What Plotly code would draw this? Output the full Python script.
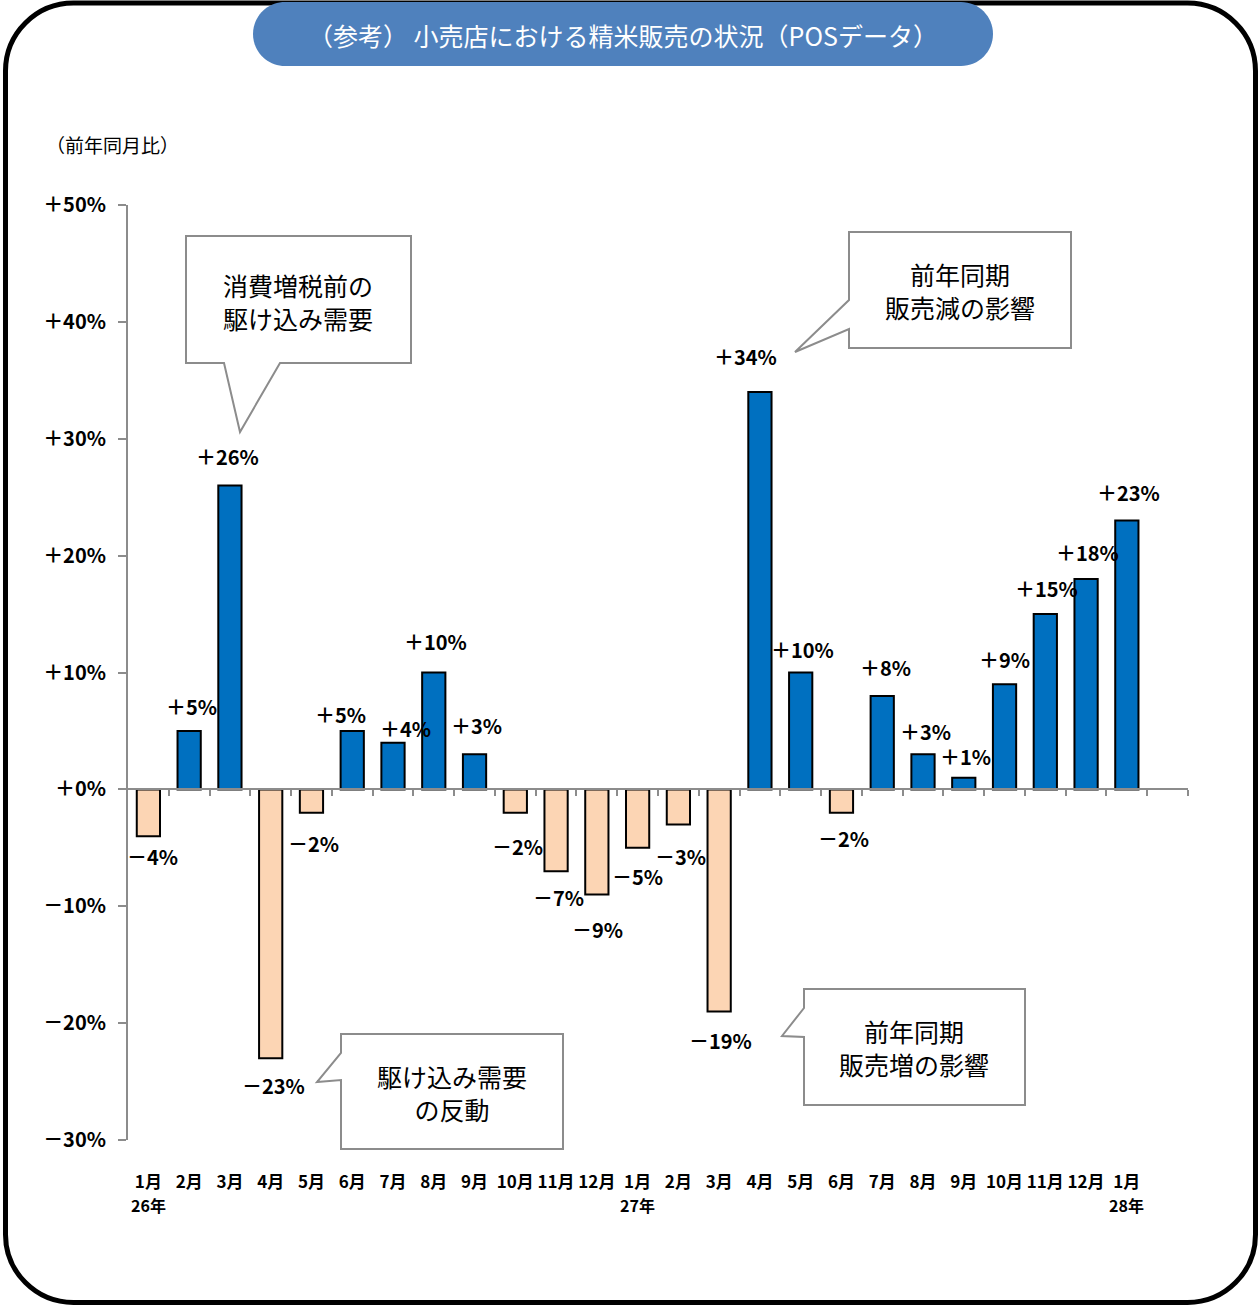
import plotly.graph_objects as go

# ---- data -------------------------------------------------------------
months = ["1月", "2月", "3月", "4月", "5月", "6月", "7月", "8月", "9月", "10月", "11月", "12月",
          "1月", "2月", "3月", "4月", "5月", "6月", "7月", "8月", "9月", "10月", "11月", "12月",
          "1月"]
years = {0: "26年", 12: "27年", 24: "28年"}
yoy_change = [-4, 5, 26, -23, -2, 5, 4, 10, 3, -2, -7, -9,
              -5, -3, -19, 34, 10, -2, 8, 3, 1, 9, 15, 18, 23]
y_ticks = [-30, -20, -10, 0, 10, 20, 30, 40, 50]

# label nudges (px) relative to bar ends
label_dx = [4, 2, -2, 3, 2, -12, 12, 2, 2, 2, 2, 1, 0, 2, 1, -14, 2, 2, 3, 2, 2, 0, 1, 1, 2]
label_dy = [-20, 24, 29, -27, -31, 16, 14, 31, 29, -34, -26, -35, -29, -32, -29, 36, 23, -26, 28, 23, 21, 25, 26, 27, 28]

W, H = 1259, 1308
L, R, T, B = 128, 71, 205, 168
PW, PH = W - L - R, H - T - B
JP = "Noto Sans CJK JP"
BLUE = "#0070C0"
PEACH = "#FCD5B4"
GRAY = "#8C8C8C"


def fmt_pct(v):
    return ("＋" if v >= 0 else "－") + f"{abs(v)}%"


def px(x, y):
    return f"{(x - L) / PW:.5f},{(H - B - y) / PH:.5f}"


def poly(pts):
    return "M " + " L ".join(px(x, y) for x, y in pts) + " Z"


def rounded(x0, y0, x1, y1, r):
    k = 0.5523 * r
    return (
        f"M {px(x0 + r, y0)} L {px(x1 - r, y0)} "
        f"C {px(x1 - r + k, y0)} {px(x1, y0 + r - k)} {px(x1, y0 + r)} "
        f"L {px(x1, y1 - r)} "
        f"C {px(x1, y1 - r + k)} {px(x1 - r + k, y1)} {px(x1 - r, y1)} "
        f"L {px(x0 + r, y1)} "
        f"C {px(x0 + r - k, y1)} {px(x0, y1 - r + k)} {px(x0, y1 - r)} "
        f"L {px(x0, y0 + r)} "
        f"C {px(x0, y0 + r - k)} {px(x0 + r - k, y0)} {px(x0 + r, y0)} Z"
    )


xs = list(range(len(yoy_change)))
colors = [BLUE if v >= 0 else PEACH for v in yoy_change]

fig = go.Figure()
fig.add_trace(go.Bar(
    x=xs, y=yoy_change, width=0.57,
    marker=dict(color=colors, line=dict(color="#000000", width=2)),
    hoverinfo="skip", showlegend=False,
))

# value labels
for i, v in enumerate(yoy_change):
    fig.add_annotation(
        x=i, y=v, xref="x", yref="y", text=fmt_pct(v), showarrow=False,
        xshift=label_dx[i], yshift=label_dy[i],
        font=dict(family=JP, size=20, color="#000000", weight="bold"),
    )

# year markers under the January ticks
for i, yr in years.items():
    fig.add_annotation(
        x=i, y=0, xref="x", yref="paper", text=yr, showarrow=False,
        yanchor="middle", yshift=-65,
        font=dict(family=JP, size=16, color="#000000", weight="bold"),
    )

fig.update_layout(
    width=W, height=H,
    margin=dict(l=L, r=R, t=T, b=B),
    paper_bgcolor="white", plot_bgcolor="white",
    xaxis=dict(
        range=[-0.5, 25.5], tickvals=xs, ticktext=months,
        showgrid=False, zeroline=False, showline=False, ticks="",
        ticklabelstandoff=30,
        tickfont=dict(family=JP, size=17, color="#000000", weight="bold"),
    ),
    xaxis2=dict(
        range=[-0.5, 25.5], overlaying="x", anchor="free", position=30 / 80,
        showline=True, linecolor=GRAY, linewidth=2,
        tickvals=[i + 0.5 for i in range(26)], ticks="outside", ticklen=6,
        tickcolor=GRAY, tickwidth=2, showticklabels=False, showgrid=False,
        zeroline=False,
    ),
    yaxis=dict(
        range=[-30, 50], tickvals=y_ticks, ticktext=[fmt_pct(v) for v in y_ticks],
        showgrid=False, zeroline=False, showline=True, linecolor=GRAY, linewidth=2,
        ticks="outside", ticklen=8, tickcolor=GRAY, tickwidth=2,
        ticklabelstandoff=8,
        tickfont=dict(family=JP, size=20, color="#000000", weight="bold"),
    ),
)
# placeholder trace so the zero-line axis is drawn
fig.add_trace(go.Scatter(x=[None], y=[None], xaxis="x2", showlegend=False, hoverinfo="skip"))

shapes = []
# outer frame
shapes.append(dict(type="path", xref="paper", yref="paper", path=rounded(5.5, 3, 1255.5, 1302.5, 68),
                   line=dict(color="#000000", width=5), fillcolor="rgba(0,0,0,0)", layer="above"))
# title pill
shapes.append(dict(type="path", xref="paper", yref="paper", path=rounded(253, 2, 993, 66, 32),
                   line=dict(width=0), fillcolor="#4F81BD", layer="above"))
# callouts
callouts = [
    [(186, 236), (411, 236), (411, 363), (280, 363), (240, 432), (224, 363), (186, 363)],
    [(849, 232), (1071, 232), (1071, 348), (849, 348), (849, 329), (795, 352), (849, 300)],
    [(341, 1034), (563, 1034), (563, 1149), (341, 1149), (341, 1080), (317, 1082), (341, 1053)],
    [(804, 989), (1025, 989), (1025, 1105), (804, 1105), (804, 1037), (782, 1036), (804, 1008)],
]
for pts in callouts:
    shapes.append(dict(type="path", xref="paper", yref="paper", path=poly(pts),
                       line=dict(color=GRAY, width=2), fillcolor="white", layer="above"))
fig.update_layout(shapes=shapes)


def text_at(x, y, txt, size, color="#000000", weight="normal"):
    fig.add_annotation(
        x=(x - L) / PW, y=(H - B - y) / PH, xref="paper", yref="paper",
        text=txt, showarrow=False, xanchor="center", yanchor="middle",
        font=dict(family=JP, size=size, color=color, weight=weight),
    )


text_at(623, 35, "（参考） 小売店における精米販売の状況（POSデータ）", 25, color="white")
fig.add_annotation(
    x=(44 - L) / PW, y=(H - B - 145) / PH, xref="paper", yref="paper",
    text="（前年同月比）", showarrow=False, xanchor="left", yanchor="middle",
    font=dict(family=JP, size=19, color="#000000"),
)
text_at(298, 301, "消費増税前の<br>駆け込み需要", 25)
text_at(960, 291, "前年同期<br>販売減の影響", 25)
text_at(452, 1092, "駆け込み需要<br>の反動", 25)
text_at(914, 1047, "前年同期<br>販売増の影響", 25)

fig.write_html("out.html")
